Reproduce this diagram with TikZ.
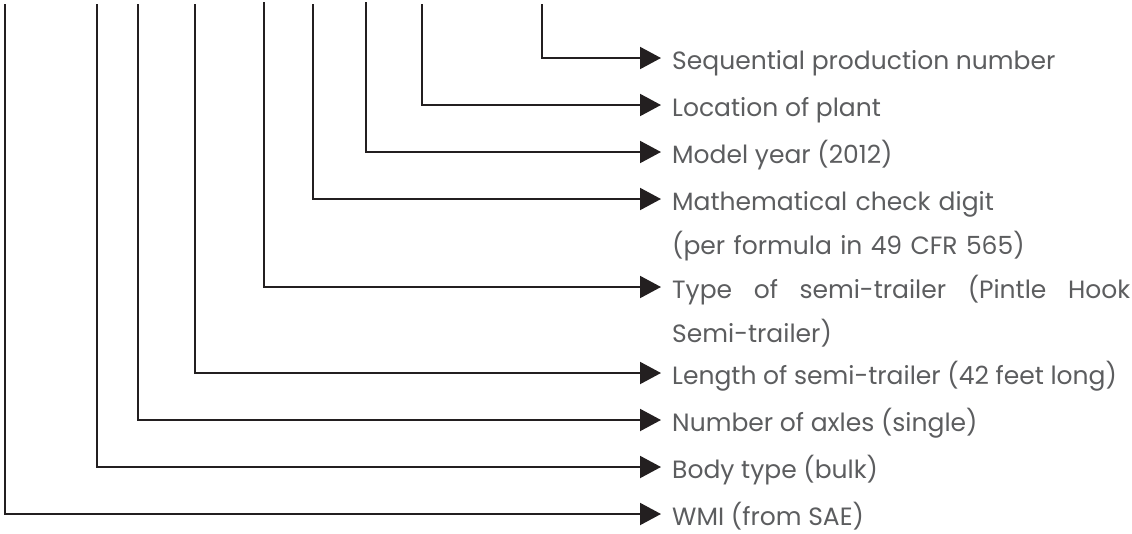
\documentclass[tikz,border=0pt]{standalone}
\usepackage{fontspec}
\setmainfont{Poppins}
\usetikzlibrary{arrows.meta}
\definecolor{ink}{RGB}{35,31,32}
\definecolor{txt}{RGB}{92,93,95}
\tikzset{
  lead/.style={draw=ink, line width=2pt, -{Triangle[length=21pt,width=22pt]}},
  lbl/.style={text=txt, anchor=base west, inner sep=0pt, font=\fontsize{25}{44}\selectfont},
}

\begin{document}
\begin{tikzpicture}[x=1pt,y=-1pt]
\useasboundingbox (0,0) rectangle (1132,533);
% tops of the leader lines
\coordinate (wmi0) at (5,4);
\coordinate (body0) at (97,4);
\coordinate (axle0) at (138,4);
\coordinate (len0) at (195,4);
\coordinate (type0) at (264,2);
\coordinate (chk0) at (313,4);
\coordinate (year0) at (366,2);
\coordinate (plant0) at (422,4);
\coordinate (seq0) at (542,4);
% arrow tips
\coordinate (wmi1) at (661,514);
\coordinate (body1) at (661,467);
\coordinate (axle1) at (661,420);
\coordinate (len1) at (661,373);
\coordinate (type1) at (661,287);
\coordinate (chk1) at (661,199);
\coordinate (year1) at (661,152);
\coordinate (plant1) at (661,105);
\coordinate (seq1) at (661,58);
% labels
\node[lbl] (seq) at (672,69) {Sequential production number};
\node[lbl] (plant) at (672,116) {Location of plant};
\node[lbl] (year) at (672,163) {Model year (2012)};
\node[lbl, text width=458pt, align=left] (chk) at (672,210) {Mathematical check digit\\(per formula in 49 CFR 565)};
\node[lbl, text width=458pt, align=left] (type) at (672,298) {\hbox to 458pt{Type\hfill of\hfill semi-trailer\hfill (Pintle\hfill Hook}\\Semi-trailer)};
\node[lbl] (len) at (672,384) {Length of semi-trailer (42 feet long)};
\node[lbl] (axle) at (672,431) {Number of axles (single)};
\node[lbl] (body) at (672,478) {Body type (bulk)};
\node[lbl] (wmi) at (672,525) {WMI (from SAE)};
% leaders
\draw[lead] (seq0) |- (seq1);
\draw[lead] (plant0) |- (plant1);
\draw[lead] (year0) |- (year1);
\draw[lead] (chk0) |- (chk1);
\draw[lead] (type0) |- (type1);
\draw[lead] (len0) |- (len1);
\draw[lead] (axle0) |- (axle1);
\draw[lead] (body0) |- (body1);
\draw[lead] (wmi0) |- (wmi1);
\end{tikzpicture}
\end{document}
